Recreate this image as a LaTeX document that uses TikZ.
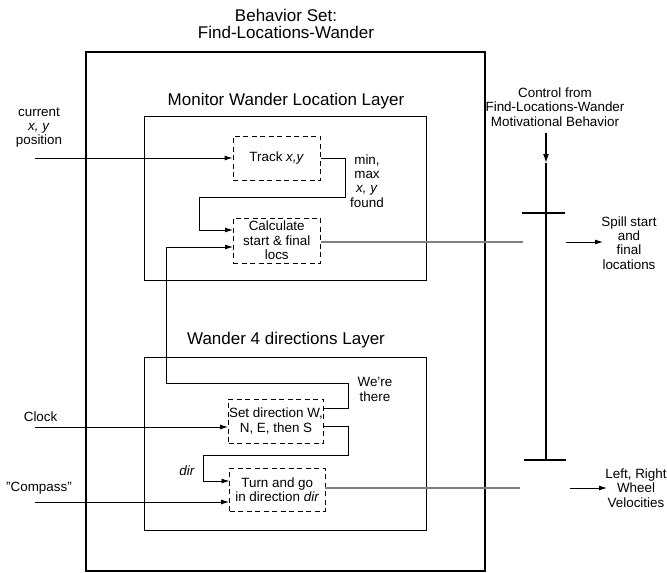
\documentclass[tikz,border=0pt]{standalone}
\usepackage{fontspec}
\setmainfont{Liberation Sans}
\usetikzlibrary{arrows.meta}
\begin{document}
\begin{tikzpicture}[x=1pt,y=-1pt,
  big/.style={font=\fontsize{17}{17}\selectfont, align=center, inner sep=0pt},
  small/.style={font=\fontsize{13.4}{14.3}\selectfont, align=center, inner sep=0pt},
  layerbox/.style={draw, line width=0.9pt, inner sep=0pt},
  dbox/.style={draw, dashed, dash pattern=on 5pt off 3.5pt, line width=0.9pt, inner sep=0pt,
    align=center, font=\fontsize{13.4}{14.3}\selectfont},
  arr/.style={-{Latex[length=8pt,width=5pt]}, line width=0.9pt},
  wire/.style={line width=0.9pt},
  gwire/.style={line width=1.3pt, draw=black!50}]
\useasboundingbox (0,0) rectangle (667,573);

% boxes
\node[layerbox, line width=2pt, minimum width=399.5pt, minimum height=519pt] (outer) at (285.25,311.5) {};
\node[layerbox, minimum width=282pt, minimum height=163.3pt] (mon) at (285,198.35) {};
\node[layerbox, minimum width=282pt, minimum height=173pt] (wan) at (285,443.5) {};
\node[dbox, minimum width=87.5pt, minimum height=44pt] (track) at (276.75,158) {Track \textit{x,y}};
\node[dbox, minimum width=87.5pt, minimum height=45pt] (calc) at (276.75,240.5) {Calculate\\start \& final\\locs};
\node[dbox, minimum width=95pt, minimum height=44pt] (setd) at (276,421) {Set direction W,\\N, E, then S};
\node[dbox, minimum width=95.5pt, minimum height=43pt] (turn) at (277.25,489.5) {Turn and go\\in direction \textit{dir}};

% texts
\node[big] (title) at (286,23.5) {Behavior Set:\\Find-Locations-Wander};
\node[big] (montitle) at (286,101) {Monitor Wander Location Layer};
\node[big] (wantitle) at (286,340) {Wander 4 directions Layer};
\node[small] (minmax) at (367,181) {min,\\max\\\textit{x, y}\\found};
\node[small] (curlbl) at (39,127.5) {current\\\textit{x, y}\\position};
\node[small] (ctrl) at (555,107) {Control from\\Find-Locations-Wander\\Motivational Behavior};
\node[small] (spill) at (629,243) {Spill start\\and\\final\\locations};
\node[small] (there) at (375,389.5) {We're\\there};
\node[small] (clock) at (40.6,417) {Clock};
\node[small] (compass) at (39,488) {\symbol{34}Compass\symbol{34}};
\node[small] (dirlbl) at (187,471) {\textit{dir}};
\node[small] (wheel) at (636,488) {Left, Right\\Wheel\\Velocities};

% coordinates
\coordinate (cur) at (35,158);
\coordinate (clk) at (35,427);
\coordinate (cmp) at (35,502);
\coordinate (ctop) at (546,133);
\coordinate (cmid) at (546,163);
\coordinate (cbot) at (546,460);
\coordinate (bar1l) at (522,213);
\coordinate (bar1r) at (565,213);
\coordinate (bar2l) at (524,460);
\coordinate (bar2r) at (566,460);
\coordinate (spillend) at (523,242);
\coordinate (wheelend) at (520,488);
\coordinate (spillA) at (566,242);
\coordinate (spillB) at (603,242);
\coordinate (wheelA) at (570,488);
\coordinate (wheelB) at (607,488);

% inputs
\draw[arr] (cur) -- (track.west);
\draw[arr] (clk) -- (setd.west |- clk);
\draw[arr] (cmp) -- (turn.west |- cmp);

% track -> calculate
\draw[arr] (track.east) -- (345,158) -- (345,197) -- (199,197) -- (199,230) -- (233,230);
% we're there
\draw[arr] (setd.east |- 0,408) -- (348,408) -- (348,383) -- (166,383) -- (166,247) -- (233,247);
% dir
\draw[arr] (setd.east |- 0,426) -- (348,426) -- (348,455) -- (203,455) -- (203,481) -- (229.5,481);

% outputs
\draw[gwire] (calc.east |- spillend) -- (spillend);
\draw[gwire] (turn.east |- wheelend) -- (wheelend);
\draw[arr] (spillA) -- (spillB);
\draw[arr] (wheelA) -- (wheelB);

% control bar
\draw[line width=1.4pt, -{Latex[length=9pt,width=6pt]}] (ctop) -- (cmid);
\draw[line width=1.4pt] (cmid) -- (cbot);
\draw[line width=1.4pt] (bar1l) -- (bar1r);
\draw[line width=1.4pt] (bar2l) -- (bar2r);
\end{tikzpicture}
\end{document}
